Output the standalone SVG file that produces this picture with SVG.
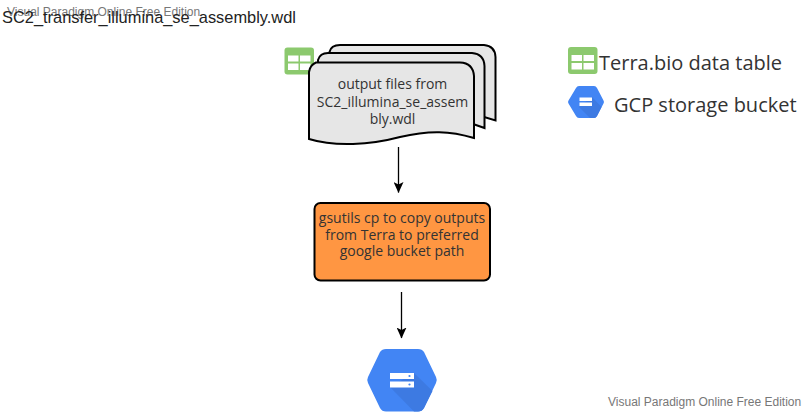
<svg xmlns="http://www.w3.org/2000/svg" width="807" height="412" viewBox="0 0 807 412">
<style>
.doc{fill:#e6e6e6;stroke:#000;stroke-width:2}
.os{font-family:"Open Sans",sans-serif;fill:#333}
.ar{font-family:"Liberation Sans",Arial,sans-serif}
.wm{font-size:12px;fill:#777}
.conn{stroke:#000;stroke-width:1.3;fill:none;marker-end:url(#arrow)}
.t{fill:#8cc96e}
.cell{fill:#fff}
.shade{fill:#3d7ae2}
</style>
<defs>
<marker id="arrow" markerUnits="userSpaceOnUse" markerWidth="11" markerHeight="10" refX="10.500" refY="5" orient="auto" viewBox="0 0 11 10"><path d="M0 0L2.500 5L0 10L11 5Z" fill="#000"/></marker>
<g id="tbl"><rect width="29.500" height="27" rx="3" class="t"/><rect x="3.500" y="8" width="10.500" height="6" class="cell"/><rect x="15.500" y="8" width="10.500" height="6" class="cell"/><rect x="3.500" y="16" width="10.500" height="6.500" class="cell"/><rect x="15.500" y="16" width="10.500" height="6.500" class="cell"/></g>
</defs>
<g id="watermarks">
<text x="7" y="16" class="ar wm">Visual Paradigm Online Free Edition</text>
<text x="608" y="406" class="ar wm">Visual Paradigm Online Free Edition</text>
</g>
<g id="title"><text x="2" y="23" class="ar" font-size="16.400" fill="#222">SC2_transfer_illumina_se_assembly.wdl</text></g>
<g id="connectors">
<path class="conn" d="M398.500 147V192.500"/>
<path class="conn" d="M401.500 292V338"/>
</g>
<g id="node-table-icon"><use href="#tbl" x="284.500" y="47.500"/></g>
<g id="node-docs">
<path class="doc" d="M329.500 52Q331 45 340 45H484Q495 46 495.500 57V120.500L484 117V70Q484 60 470 59H329.500Z"/>
<path class="doc" d="M318 60Q320 53 328 53H472Q484 54 484.500 66V128L473 124V80Q472 68 460 66H318Z"/>
<path class="doc" d="M309 139V72Q310 65 316 62.500H460Q473 63 474 76V138C450 131 430 130 400 137C370 145 335 147 309 139Z"/>
<text text-anchor="middle" class="os" font-size="14"><tspan x="392.500" y="89">output files from</tspan><tspan x="392.500" y="107">SC2_illumina_se_assem</tspan><tspan x="392.500" y="124">bly.wdl</tspan></text>
</g>
<g id="node-process">
<rect x="314.500" y="203" width="175.500" height="77.500" rx="6" fill="#ff9642" stroke="#000" stroke-width="2"/>
<text text-anchor="middle" class="os" font-size="14"><tspan x="402" y="223">gsutils cp to copy outputs</tspan><tspan x="402" y="239.500">from Terra to preferred</tspan><tspan x="402" y="256">google bucket path</tspan></text>
</g>
<g id="node-bucket">
<path fill="#4285f4" d="M386 349H418Q422 349 424 352L436 377Q437.500 380 436 383L424 408Q422 411.500 418 411.500H386Q382 411.500 380 408L368 383Q366.500 380 368 377L380 352Q382 349 386 349Z"/>
<path class="shade" d="M414 373L432.500 391L424 408Q422 411.500 418 411.500H414L390 387Z"/>
<rect x="390" y="373" width="24" height="6" fill="#fff"/><rect x="390" y="381.500" width="24" height="6" fill="#fff"/>
<circle cx="409.500" cy="376" r="1.100" fill="#4285f4"/><circle cx="409.500" cy="384.500" r="1.100" fill="#4285f4"/>
</g>
<g id="legend-table"><use href="#tbl" x="568" y="47"/><text x="599" y="70" class="os" font-size="20">Terra.bio data table</text></g>
<g id="legend-bucket">
<path fill="#4285f4" d="M579 86H594Q596 86 597 88L603.500 100.500Q604.500 102 603.500 103.500L597 116Q596 118 594 118H579Q577 118 576 116L568.500 103.500Q567.500 102 568.500 100.500L576 88Q577 86 579 86Z"/>
<path class="shade" d="M592 97L601.500 107L597 116Q596 118 594 118H590L579 107Z"/>
<rect x="579.500" y="97.500" width="12.500" height="3.500" fill="#fff"/><rect x="579.500" y="102.500" width="12.500" height="3.500" fill="#fff"/>
<text x="614" y="112" class="os" font-size="20">GCP storage bucket</text>
</g>
</svg>
